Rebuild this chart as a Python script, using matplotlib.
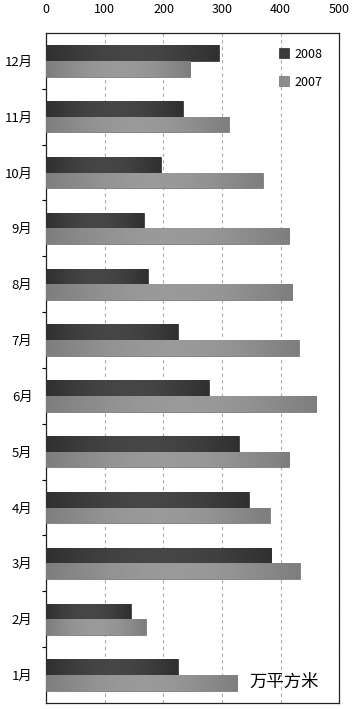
import matplotlib
matplotlib.use("Agg")
import matplotlib.pyplot as plt
from matplotlib.colors import LinearSegmentedColormap
import numpy as np

plt.rcParams['font.family'] = ['Noto Sans CJK SC', 'DejaVu Sans']

months = ['1月', '2月', '3月', '4月', '5月', '6月', '7月', '8月', '9月', '10月', '11月', '12月']
sales_2008 = [224, 145, 384, 346, 328, 278, 225, 174, 166, 196, 233, 295]
sales_2007 = [326, 170, 433, 382, 415, 461, 431, 420, 415, 369, 312, 246]
xticks = [0, 100, 200, 300, 400, 500]

fig = plt.figure(figsize=(3.6, 7.09), dpi=100)
ax = fig.add_axes([0.1286, 0.0085, 0.8139, 0.945])

y = np.arange(len(months))
h = 0.28
b08 = ax.barh(y + h / 2, sales_2008, height=h, color='#3b3b3b', edgecolor='#2a2a2a', linewidth=0.5, label='2008', zorder=3)
b07 = ax.barh(y - h / 2, sales_2007, height=h, color='#8c8c8c', edgecolor='#6e6e6e', linewidth=0.5, label='2007', zorder=3)

# soft horizontal shading on every bar, lighter in the middle
grad = np.atleast_2d(np.sin(np.linspace(0, np.pi, 64)))
cm08 = LinearSegmentedColormap.from_list('g08', ['#303030', '#464646'])
cm07 = LinearSegmentedColormap.from_list('g07', ['#7e7e7e', '#9a9a9a'])
for bars, cmap in [(b08, cm08), (b07, cm07)]:
    for p in bars:
        x0, y0 = p.get_x(), p.get_y()
        im = ax.imshow(grad, cmap=cmap, aspect='auto', zorder=3.5,
                       extent=[x0, x0 + p.get_width(), y0, y0 + p.get_height()])
        im.set_clip_path(p)

ax.set_xlim(0, 500)
ax.set_ylim(-0.5, len(months) - 0.5)
ax.xaxis.tick_top()
ax.set_xticks(xticks)
ax.tick_params(axis='x', length=0, pad=12, labelsize=9)
ax.set_yticks(y)
ax.set_yticklabels(months)
ax.set_yticks(np.arange(len(months) - 1) + 0.5, minor=True)
ax.tick_params(axis='y', which='major', length=0, pad=10, labelsize=9.5)
ax.tick_params(axis='y', which='minor', length=3, direction='out', width=0.8)

ax.grid(axis='x', linestyle=(0, (3, 3)), color='#aaaaaa', linewidth=0.8, zorder=0)
for s in ax.spines.values():
    s.set_linewidth(0.9)
    s.set_color('#222222')

ax.legend(loc='upper right', frameon=False, fontsize=9, handlelength=0.8, handleheight=0.8,
          handletextpad=0.4, labelspacing=1.2, bbox_to_anchor=(0.98, 0.995))

ax.text(0.931, 0.018, '万平方米', transform=ax.transAxes, ha='right', va='bottom', fontsize=12.5)

fig.savefig('out.png', dpi=100)
